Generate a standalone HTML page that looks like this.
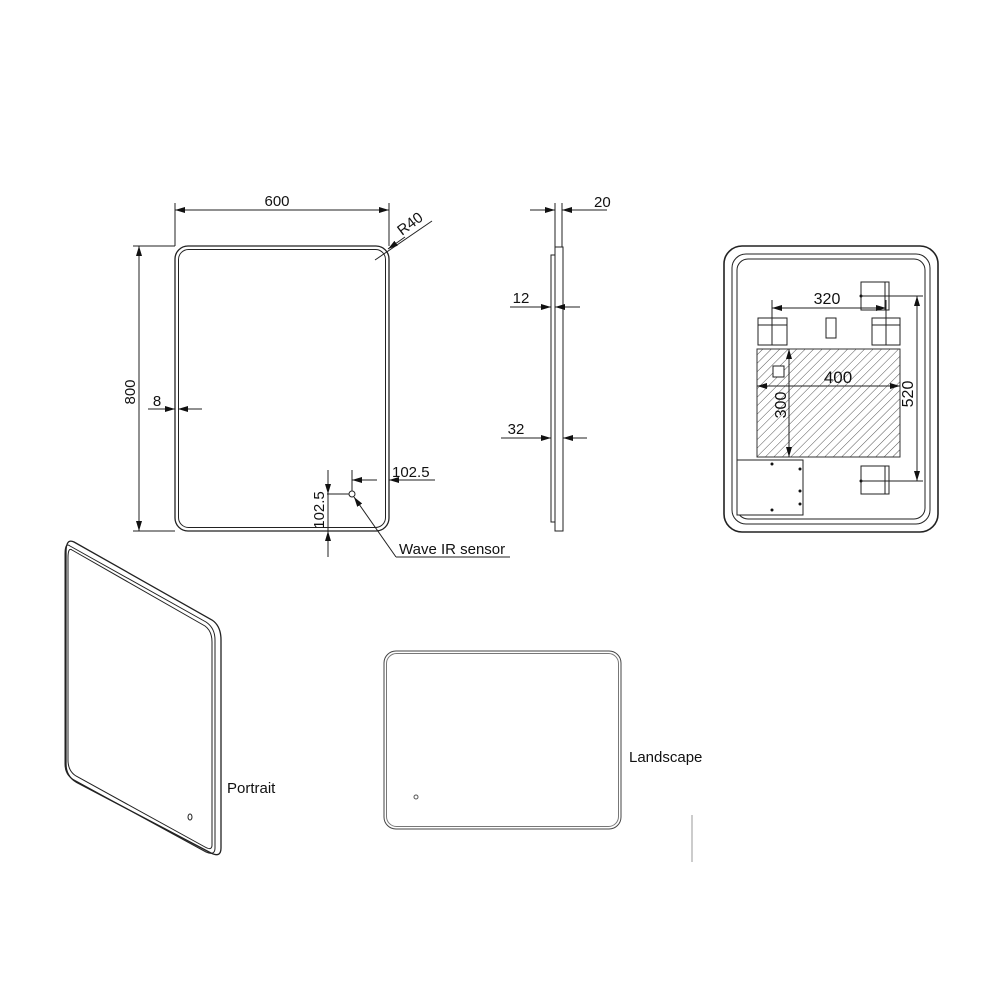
<!DOCTYPE html>
<html><head><meta charset="utf-8"><style>
html,body{margin:0;padding:0;background:#fff}
svg{display:block}
text{font-family:"Liberation Sans",sans-serif;fill:#111}
</style></head><body>
<svg width="1000" height="1000" viewBox="0 0 1000 1000" xmlns="http://www.w3.org/2000/svg">
<defs>
<marker id="a" viewBox="0 0 10 6" refX="10" refY="3" markerWidth="10" markerHeight="6" orient="auto-start-reverse" markerUnits="userSpaceOnUse"><path d="M0,0L10,3L0,6z" fill="#111"/></marker>
<pattern id="h" width="6" height="6" patternUnits="userSpaceOnUse" patternTransform="rotate(45)"><line x1="0" y1="0" x2="0" y2="6" stroke="#555" stroke-width="1"/></pattern>
</defs>
<g fill="none" stroke="#222" stroke-width="1">
<rect x="175" y="246" width="214" height="285" rx="13" stroke-width="1.3"/>
<rect x="178.5" y="249.5" width="207" height="278" rx="10"/>
<line x1="175" y1="203" x2="175" y2="246"/><line x1="389" y1="203" x2="389" y2="246"/>
<line x1="175" y1="210" x2="389" y2="210" marker-start="url(#a)" marker-end="url(#a)"/>
<line x1="133" y1="246" x2="175" y2="246"/><line x1="133" y1="531" x2="175" y2="531"/>
<line x1="139" y1="246" x2="139" y2="531" marker-start="url(#a)" marker-end="url(#a)"/>
<line x1="148" y1="409" x2="175" y2="409" marker-end="url(#a)"/>
<line x1="202" y1="409" x2="178" y2="409" marker-end="url(#a)"/>
<line x1="375" y1="260" x2="432" y2="221"/>
<line x1="405" y1="237" x2="388" y2="249" marker-end="url(#a)"/>
<circle cx="352" cy="494" r="3"/>
<line x1="327" y1="494" x2="349" y2="494"/>
<line x1="352" y1="470" x2="352" y2="491"/>
<line x1="352" y1="480" x2="377" y2="480"/>
<line x1="435" y1="480" x2="389" y2="480" marker-end="url(#a)"/>
<line x1="365" y1="480" x2="352" y2="480" marker-end="url(#a)"/>
<line x1="328" y1="470" x2="328" y2="494" marker-end="url(#a)"/>
<line x1="328" y1="557" x2="328" y2="531" marker-end="url(#a)"/>
<line x1="328" y1="494" x2="328" y2="531"/>
<line x1="510" y1="557" x2="396" y2="557"/>
<line x1="396" y1="557" x2="354" y2="497" marker-end="url(#a)"/>
<rect x="555" y="247" width="8" height="284"/>
<rect x="551" y="255" width="4" height="267"/>
<line x1="555" y1="203" x2="555" y2="247"/><line x1="562" y1="203" x2="562" y2="247"/>
<line x1="530" y1="210" x2="555" y2="210" marker-end="url(#a)"/>
<line x1="607" y1="210" x2="562" y2="210" marker-end="url(#a)"/>
<line x1="510" y1="307" x2="551" y2="307" marker-end="url(#a)"/>
<line x1="580" y1="307" x2="555" y2="307" marker-end="url(#a)"/>
<line x1="501" y1="438" x2="551" y2="438" marker-end="url(#a)"/>
<line x1="587" y1="438" x2="563" y2="438" marker-end="url(#a)"/>
<rect x="724" y="246" width="214" height="286" rx="18" stroke-width="1.6"/>
<rect x="732" y="254" width="198" height="270" rx="14"/>
<rect x="737" y="259" width="188" height="260" rx="11"/>
<rect x="757" y="349" width="143" height="108" fill="url(#h)" stroke="#333"/>
<rect x="773" y="366" width="11" height="11" fill="#fff"/>
<rect x="758" y="318" width="29" height="27"/><line x1="758" y1="325" x2="787" y2="325"/>
<rect x="826" y="318" width="10" height="20"/>
<rect x="872" y="318" width="28" height="27"/><line x1="872" y1="325" x2="900" y2="325"/>
<rect x="861" y="282" width="28" height="28"/><line x1="885" y1="282" x2="885" y2="310"/>
<rect x="861" y="466" width="28" height="28"/><line x1="885" y1="466" x2="885" y2="494"/>
<rect x="737" y="460" width="66" height="55" fill="#fff"/>
<g fill="#111" stroke="none"><circle cx="772" cy="464" r="1.5"/><circle cx="800" cy="469" r="1.5"/><circle cx="800" cy="491" r="1.5"/><circle cx="800" cy="504" r="1.5"/><circle cx="772" cy="510" r="1.5"/><circle cx="861" cy="296" r="1.5"/><circle cx="861" cy="481" r="1.5"/></g>
<line x1="772" y1="300" x2="772" y2="345"/><line x1="886" y1="300" x2="886" y2="345"/>
<line x1="772" y1="308" x2="886" y2="308" marker-start="url(#a)" marker-end="url(#a)"/>
<line x1="757" y1="386" x2="900" y2="386" marker-start="url(#a)" marker-end="url(#a)"/>
<line x1="789" y1="349" x2="789" y2="457" marker-start="url(#a)" marker-end="url(#a)"/>
<line x1="861" y1="296" x2="923" y2="296"/><line x1="861" y1="481" x2="923" y2="481"/>
<line x1="917" y1="296" x2="917" y2="481" marker-start="url(#a)" marker-end="url(#a)"/>
<path d="M74,542 L212,620 Q221,626 221,640 L221,848 Q221,858 211,853 L76,782 Q66,776 66,764 L66,552 Q66,538 74,542 Z" stroke-width="1.3"/>
<path d="M70,546 L206,622 Q215,628 215,640 L215,848 Q215,856 206,852 L74,780 Q65,775 65,764 L65,554 Q65,542 70,546 Z"/>
<path d="M72,550 L205,626 Q212,631 212,642 L212,845 Q212,851 205,847 L76,776 Q68,771 68,760 L68,558 Q68,547 72,550 Z"/>
<ellipse cx="190" cy="817" rx="2" ry="3"/>
<rect x="384" y="651" width="237" height="178" rx="12" stroke="#444"/>
<rect x="386.5" y="653.5" width="232" height="173" rx="10" stroke="#777"/>
<circle cx="416" cy="797" r="2" stroke="#555"/>
<line x1="692" y1="815" x2="692" y2="862" stroke="#999"/>
</g>
<g font-size="15">
<text x="277" y="206" text-anchor="middle">600</text>
<text transform="translate(135,392) rotate(-90)" text-anchor="middle">800</text>
<text x="157" y="406" text-anchor="middle">8</text>
<text transform="translate(402,236) rotate(-37)">R40</text>
<text x="392" y="477">102.5</text>
<text transform="translate(324,510) rotate(-90)" text-anchor="middle">102.5</text>
<text x="399" y="554">Wave IR sensor</text>
<text x="594" y="207">20</text>
<text x="521" y="303" text-anchor="middle">12</text>
<text x="516" y="434" text-anchor="middle">32</text>
<text x="827" y="304" text-anchor="middle" font-size="16">320</text>
<text x="838" y="383" text-anchor="middle" font-size="17">400</text>
<text transform="translate(786,405) rotate(-90)" text-anchor="middle" font-size="16">300</text>
<text transform="translate(913,394) rotate(-90)" text-anchor="middle" font-size="16">520</text>
<text x="227" y="793">Portrait</text>
<text x="629" y="762">Landscape</text>
</g>
</svg>
</body></html>
